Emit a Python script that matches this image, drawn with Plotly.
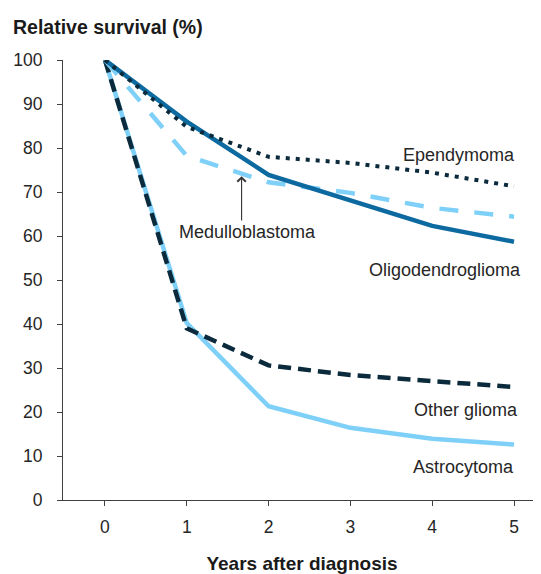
import plotly.graph_objects as go

years = [0, 1, 2, 3, 4, 5]
ependymoma = [100, 84.8, 78.0, 76.6, 74.4, 71.3]
medulloblastoma = [100, 78.2, 72.2, 69.8, 66.4, 64.4]
oligodendroglioma = [100, 86.0, 73.9, 68.2, 62.3, 58.7]
other_glioma = [100, 39.0, 30.6, 28.4, 27.0, 25.7]
astrocytoma = [100, 40.2, 21.3, 16.4, 13.9, 12.6]

series_names = ["Ependymoma", "Medulloblastoma", "Oligodendroglioma", "Other glioma", "Astrocytoma"]

DARK = "#0b2b3d"
MID = "#0d6aa0"
LIGHT = "#7fd0f8"
FONT = "Liberation Sans, Arial, sans-serif"
TXT = "#262626"

# page body has an 8px default margin; figure sized to fit the 541x574 window
W, H = 533, 566

fig = go.Figure()
fig.add_trace(go.Scatter(x=years, y=astrocytoma, mode="lines", name=series_names[4],
                         line=dict(color=LIGHT, width=4.5)))
fig.add_trace(go.Scatter(x=years, y=other_glioma, mode="lines", name=series_names[3],
                         line=dict(color=DARK, width=4.5, dash="13px,7px")))
fig.add_trace(go.Scatter(x=years, y=medulloblastoma, mode="lines", name=series_names[1],
                         line=dict(color=LIGHT, width=4.5, dash="19px,16px")))
fig.add_trace(go.Scatter(x=years, y=oligodendroglioma, mode="lines", name=series_names[2],
                         line=dict(color=MID, width=4.5)))
fig.add_trace(go.Scatter(x=years, y=ependymoma, mode="lines", name=series_names[0],
                         line=dict(color=DARK, width=4, dash="4px,6px")))

ann_font = dict(family=FONT, size=18, color=TXT)
annotations = [
    dict(x=5.04, y=78.3, text="Ependymoma", xanchor="right", yanchor="middle"),
    dict(x=5.11, y=52.3, text="Oligodendroglioma", xanchor="right", yanchor="middle"),
    dict(x=5.07, y=20.5, text="Other glioma", xanchor="right", yanchor="middle"),
    dict(x=5.02, y=7.4, text="Astrocytoma", xanchor="right", yanchor="middle"),
    dict(x=1.74, y=60.8, text="Medulloblastoma", xanchor="center", yanchor="middle"),
]
for a in annotations:
    fig.add_annotation(xref="x", yref="y", showarrow=False, font=ann_font, **a)

# arrow pointing to medulloblastoma line
fig.add_annotation(xref="x", yref="y", x=1.67, y=73.6, ax=1.67, ay=63.2,
                   axref="x", ayref="y", text="", showarrow=True,
                   arrowhead=4, arrowsize=1.5, arrowwidth=1.1, arrowcolor="#333333")

fig.update_layout(
    width=W, height=H,
    margin=dict(l=55, r=0, t=52, b=74, autoexpand=False),
    plot_bgcolor="white", paper_bgcolor="white",
    showlegend=False,
    title=dict(text="<b>Relative survival (%)</b>", x=5/W, xanchor="left",
               xref="container", y=1-19/H, yref="container", yanchor="middle",
               automargin=False,
               font=dict(family=FONT, size=19.5, color="#1a1a1a")),
    font=dict(family=FONT, color=TXT),
)
fig.update_xaxes(range=[-0.513, 5.33], tickvals=years, ticktext=[str(v) for v in years],
                 automargin=False,
                 showgrid=False, zeroline=False, showline=True, linecolor="#404040", linewidth=1,
                 ticks="outside", ticklen=5, tickcolor="#404040",
                 tickfont=dict(family=FONT, size=17.5, color=TXT), ticklabelstandoff=6,
                 title=dict(text="<b>Years after diagnosis</b>", standoff=26,
                            font=dict(family=FONT, size=19, color="#1a1a1a")))
fig.update_yaxes(range=[0, 100], dtick=10, showgrid=False, zeroline=False, showline=True,
                 automargin=False,
                 linecolor="#404040", linewidth=1, ticks="outside", ticklen=5, tickcolor="#404040",
                 tickfont=dict(family=FONT, size=17.5, color=TXT), ticklabelstandoff=11)

fig.write_html("out.html")
